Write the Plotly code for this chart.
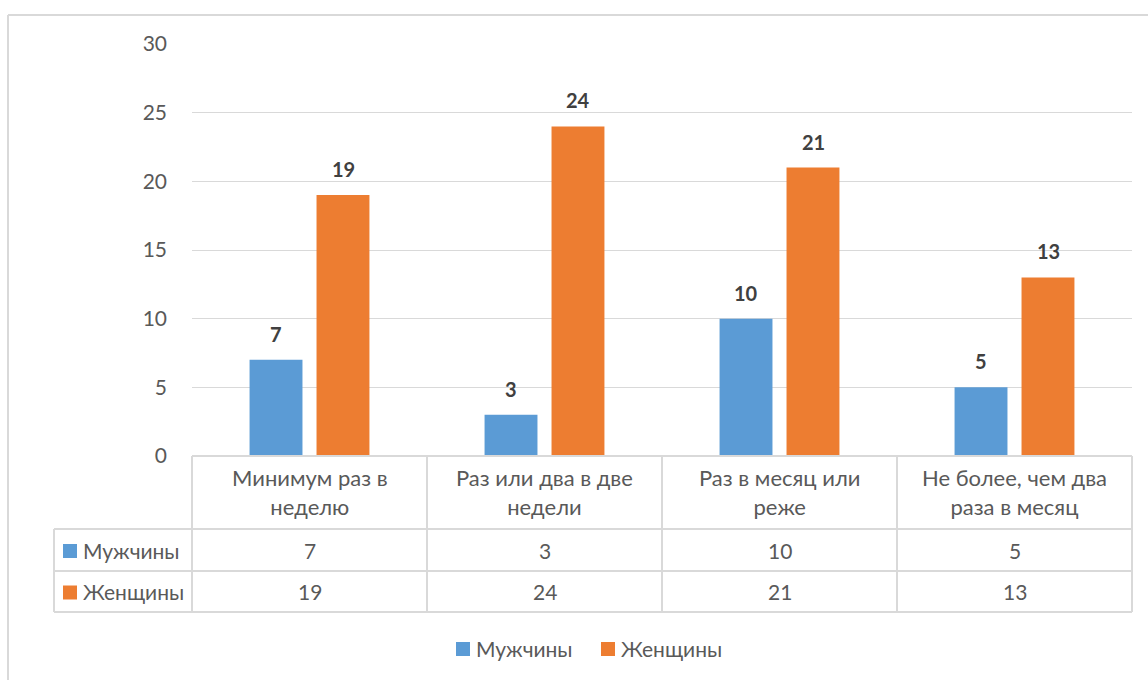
import plotly.graph_objects as go

categories = ["Минимум раз в<br>неделю", "Раз или два в две<br>недели", "Раз в месяц или<br>реже", "Не более, чем два<br>раза в месяц"]
series_names = ["Мужчины", "Женщины"]
men = [7, 3, 10, 5]
women = [19, 24, 21, 13]
colors = ["#5b9bd5", "#ed7d31"]

W, H = 1148, 680
X0, X1 = 192, 1132
Y0, Y1 = 456, 44  # pixel y of value 0 and 30

def px(x):
    return x / W

def py(y):
    return 1 - y / H

FONT = "Lato"
TXT = "#595959"
GRID = "#d9d9d9"
FS = 21

fig = go.Figure()
idx = list(range(len(categories)))
for name, vals, col in zip(series_names, [men, women], colors):
    fig.add_trace(go.Bar(x=idx, y=vals, name=name, marker=dict(color=col, line=dict(width=0)),
                         showlegend=False, hoverinfo="skip"))

fig.update_layout(
    template="none",
    width=W, height=H, margin=dict(l=0, r=0, t=0, b=0, pad=0, autoexpand=False),
    paper_bgcolor="white", plot_bgcolor="white", showlegend=False,
    barmode="group", bargap=0.43, bargroupgap=0.21,
    font=dict(family=FONT, color=TXT, size=FS),
    xaxis=dict(domain=[px(X0), px(X1)], range=[-0.5, len(categories) - 0.5], automargin=False,
               showticklabels=False, showgrid=False, zeroline=False, showline=False, ticks=""),
    yaxis=dict(domain=[py(Y0), py(Y1)], range=[0, 30], dtick=5, showgrid=True, gridcolor=GRID,
               gridwidth=1, zeroline=False, showline=False, ticks="", ticklabelstandoff=24,
               automargin=False, tickfont=dict(size=FS, color=TXT, family=FONT)),
)

shapes = []
def line(x0, y0, x1, y1):
    shapes.append(dict(type="line", xref="paper", yref="paper", x0=px(x0), y0=py(y0), x1=px(x1), y1=py(y1),
                       line=dict(color=GRID, width=2)))

# outer chart border
line(8, 15, 1150, 15)
line(8, 15, 8, 690)

# table
R0, R1, R2, R3 = 456, 529, 571, 612
LX = 54
colx = [X0 + i * (X1 - X0) / len(categories) for i in range(len(categories) + 1)]
line(X0, R0, X1, R0)
for r in (R1, R2, R3):
    line(LX, r, X1, r)
line(LX, R1, LX, R3)
for cx in colx:
    line(cx, R0, cx, R3)

annotations = []
for i, cat in enumerate(categories):
    cx = (colx[i] + colx[i + 1]) / 2
    annotations.append(dict(xref="paper", yref="paper", x=px(cx), y=py((R0 + R1) / 2 - 1), text=cat,
                            showarrow=False, font=dict(size=22, color=TXT, family=FONT), align="center",
                            xanchor="center", yanchor="middle"))
    for vals, rt, rb in [(men, R1, R2), (women, R2, R3)]:
        annotations.append(dict(xref="paper", yref="paper", x=px(cx), y=py((rt + rb) / 2), text=str(vals[i]),
                                showarrow=False, font=dict(size=FS, color=TXT, family=FONT),
                                xanchor="center", yanchor="middle"))

# row headers with legend keys
for name, col, rt, rb in [(series_names[0], colors[0], R1, R2), (series_names[1], colors[1], R2, R3)]:
    cy = (rt + rb) / 2
    shapes.append(dict(type="rect", xref="paper", yref="paper", x0=px(63), x1=px(77), y0=py(cy - 6), y1=py(cy + 8),
                       fillcolor=col, line=dict(width=0)))
    annotations.append(dict(xref="paper", yref="paper", x=px(81), y=py(cy), text=name, showarrow=False,
                            font=dict(size=FS, color=TXT, family=FONT), xanchor="left", yanchor="middle"))

# data labels
off = 33.5
for vals, sh in [(men, -off), (women, off)]:
    for i, v in enumerate(vals):
        annotations.append(dict(xref="x", yref="y", x=i, y=v, xshift=sh, yshift=26, text=f"<b>{v}</b>",
                                showarrow=False, font=dict(size=FS - 1, color="#404040", family=FONT),
                                xanchor="center", yanchor="middle"))

# bottom legend
LY = 648
for name, col, sx in [(series_names[0], colors[0], 456), (series_names[1], colors[1], 601)]:
    shapes.append(dict(type="rect", xref="paper", yref="paper", x0=px(sx), x1=px(sx + 14), y0=py(LY - 6), y1=py(LY + 8),
                       fillcolor=col, line=dict(width=0)))
    annotations.append(dict(xref="paper", yref="paper", x=px(sx + 18), y=py(LY), text=name, showarrow=False,
                            font=dict(size=FS, color=TXT, family=FONT), xanchor="left", yanchor="middle"))

fig.update_layout(shapes=shapes, annotations=annotations)
fig.write_html("out.html")
